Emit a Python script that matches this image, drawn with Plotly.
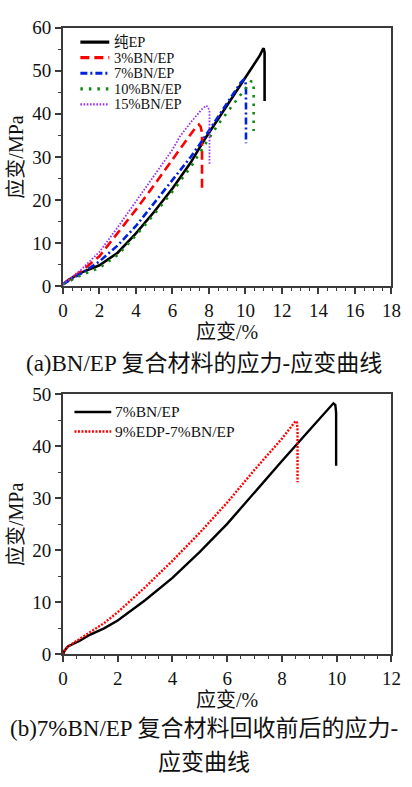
import plotly.graph_objects as go

# ---- (a) stress-strain curves of BN/EP composites (strain %, stress MPa) ----
ep_x = [0, 0.3, 1, 2, 3, 4, 5, 6, 7, 7.75, 9, 10, 10.8, 10.95, 11.0, 11.05, 11.05]
ep_y = [0.5, 1.5, 3.2, 4.9, 7.8, 12.3, 17.3, 22.7, 28.7, 34.0, 42.0, 48.4, 53.6, 54.9, 55.2, 54.2, 43.0]

bn3_x = [0, 0.5, 1, 2, 3, 4, 5, 6, 6.9, 7.3, 7.45, 7.55, 7.62, 7.62]
bn3_y = [0.5, 2.0, 3.5, 7.0, 12.3, 17.8, 23.5, 29.5, 34.7, 37.0, 37.5, 37.0, 35.5, 22.7]

bn7_x = [0, 0.5, 1, 2, 3, 4, 5, 6, 7, 7.75, 8.5, 9.3, 9.75, 9.92, 10.0, 10.03, 10.03]
bn7_y = [0.5, 1.8, 3.0, 5.8, 9.5, 14.0, 19.3, 24.6, 30.0, 34.5, 39.3, 44.4, 47.3, 48.0, 47.6, 46.0, 33.2]

bn10_x = [0, 0.5, 1, 2, 3, 4, 5, 6, 7, 7.8, 8.5, 9.35, 10.0, 10.3, 10.4, 10.45, 10.45]
bn10_y = [0.5, 1.6, 2.6, 4.3, 7.3, 11.8, 16.7, 22.0, 27.6, 33.0, 37.5, 42.3, 45.8, 47.5, 47.6, 46.8, 36.0]

bn15_x = [0, 0.5, 1, 2, 3, 4, 5, 6, 6.4, 7.0, 7.6, 7.85, 7.95, 8.03, 8.03]
bn15_y = [0.5, 2.2, 3.9, 8.0, 13.7, 19.7, 25.7, 31.7, 34.7, 38.0, 41.0, 41.9, 41.6, 40.5, 28.3]

# ---- (b) 7%BN/EP before and after recycling ----
rec_bn7_x = [0, 0.06, 0.18, 0.3, 0.6, 1, 1.5, 2, 3, 4, 5, 6, 7, 8, 9, 9.6, 9.8, 9.88, 9.95, 9.98, 9.98]
rec_bn7_y = [0, 0.7, 1.5, 1.8, 2.6, 3.8, 5.0, 6.5, 10.4, 14.7, 19.7, 25.1, 31.2, 37.2, 43.1, 46.7, 48.0, 48.3, 48.0, 46.5, 36.3]

edp_x = [0, 0.06, 0.18, 0.3, 0.6, 1, 1.5, 2, 3, 4, 5, 6, 7, 8, 8.4, 8.5, 8.55, 8.57, 8.57]
edp_y = [0, 0.8, 1.5, 1.9, 2.9, 4.2, 6.0, 8.1, 12.9, 18.0, 23.4, 29.2, 35.5, 41.5, 44.4, 44.9, 44.6, 43.0, 33.1]

names_a = ["纯EP", "3%BN/EP", "7%BN/EP", "10%BN/EP", "15%BN/EP"]
names_b = ["7%BN/EP", "9%EDP-7%BN/EP"]

x_ticks_a = [0, 2, 4, 6, 8, 10, 12, 14, 16, 18]
y_ticks_a = [0, 10, 20, 30, 40, 50, 60]
x_ticks_b = [0, 2, 4, 6, 8, 10, 12]
y_ticks_b = [0, 10, 20, 30, 40, 50]

SERIF = "Liberation Serif, Times New Roman, Noto Sans CJK SC, serif"
INK = "#111111"
FRAME = "#3a3a3a"

styles_a = [
    dict(color="#000000", width=2.6, dash="solid"),
    dict(color="#ff0000", width=2.6, dash="9px,5px"),
    dict(color="#0022dd", width=2.6, dash="7px,3px,2px,3px"),
    dict(color="#118811", width=2.6, dash="2.5px,6px"),
    dict(color="#9933ee", width=1.8, dash="1.6px,1.6px"),
]
styles_b = [
    dict(color="#000000", width=2.4, dash="solid"),
    dict(color="#ff0000", width=2.4, dash="2px,1.5px"),
]

fig = go.Figure()

series_a = [(ep_x, ep_y), (bn3_x, bn3_y), (bn7_x, bn7_y), (bn10_x, bn10_y), (bn15_x, bn15_y)]
for (sx, sy), nm, st in zip(series_a, names_a, styles_a):
    fig.add_trace(go.Scatter(x=sx, y=sy, mode="lines", name=nm, line=st,
                             xaxis="x", yaxis="y", showlegend=False))

series_b = [(rec_bn7_x, rec_bn7_y), (edp_x, edp_y)]
for (sx, sy), nm, st in zip(series_b, names_b, styles_b):
    fig.add_trace(go.Scatter(x=sx, y=sy, mode="lines", name=nm, line=st,
                             xaxis="x2", yaxis="y2", showlegend=False))

H = 787.0


def ydom(top_px, bottom_px):
    return [(H - bottom_px) / H, (H - top_px) / H]


xdom = [60 / 412, 400 / 412]

axis_common = dict(
    showline=True, linecolor=FRAME, linewidth=1.8, mirror=True,
    ticks="outside", ticklen=6, tickwidth=1.5, tickcolor=FRAME,
    showgrid=False, zeroline=False,
    tickfont=dict(family=SERIF, size=19, color=INK),
)
minor_x = dict(dtick=0.5, ticklen=3, ticks="outside", tickcolor=FRAME, tickwidth=1.2)
minor_y = dict(dtick=5, ticklen=3, ticks="outside", tickcolor=FRAME, tickwidth=1.2)
title_font = dict(family=SERIF, size=20, color=INK)

fig.update_layout(
    width=412, height=787,
    margin=dict(l=0, r=0, t=0, b=0),
    paper_bgcolor="white", plot_bgcolor="white",
    showlegend=False,
    xaxis=dict(domain=xdom, range=[0, 18], tickvals=x_ticks_a, anchor="y", minor=minor_x,
               title=dict(text="应变/%", font=title_font, standoff=0), **axis_common),
    yaxis=dict(domain=ydom(18, 284), range=[0, 60], tickvals=y_ticks_a, anchor="x", minor=minor_y,
               title=dict(text="应变/MPa", font=title_font, standoff=3), **axis_common),
    xaxis2=dict(domain=xdom, range=[0, 12], tickvals=x_ticks_b, anchor="y2", minor=minor_x,
                title=dict(text="应变/%", font=title_font, standoff=0), **axis_common),
    yaxis2=dict(domain=ydom(395, 662), range=[0, 50], tickvals=y_ticks_b, anchor="x2", minor=minor_y,
                title=dict(text="应变/MPa", font=title_font, standoff=3), **axis_common),
)

# legend keys drawn inside each panel
shapes = []
annotations = []
rows_a = [(284 - py) / 266 for py in (33, 49, 65, 81, 97)]
for nm, st, yy in zip(names_a, styles_a, rows_a):
    shapes.append(dict(type="line", xref="x domain", yref="y domain",
                       x0=0.053, x1=0.141, y0=yy, y1=yy,
                       line=dict(color=st["color"], width=st["width"] + 0.6, dash=st["dash"])))
    annotations.append(dict(xref="x domain", yref="y domain", x=0.153, y=yy,
                            xanchor="left", yanchor="middle", showarrow=False, text=nm,
                            borderpad=0, font=dict(family=SERIF, size=14.5, color=INK)))

rows_b = [(662 - py) / 267 for py in (413, 433)]
for nm, st, yy in zip(names_b, styles_b, rows_b):
    shapes.append(dict(type="line", xref="x2 domain", yref="y2 domain",
                       x0=0.035, x1=0.147, y0=yy, y1=yy,
                       line=dict(color=st["color"], width=st["width"], dash=st["dash"])))
    annotations.append(dict(xref="x2 domain", yref="y2 domain", x=0.156, y=yy,
                            xanchor="left", yanchor="middle", showarrow=False, text=nm,
                            borderpad=0, font=dict(family=SERIF, size=15.5, color=INK)))

# figure captions
captions = [
    ("(a)BN/EP 复合材料的应力-应变曲线", 363),
    ("(b)7%BN/EP 复合材料回收前后的应力-", 738),
    ("应变曲线", 773),
]
for txt, ypx in captions:
    annotations.append(dict(xref="paper", yref="paper", x=0.5, y=(H - ypx) / H,
                            xanchor="center", yanchor="middle", showarrow=False, text=txt,
                            font=dict(family=SERIF, size=23, color=INK)))

fig.update_layout(shapes=shapes, annotations=annotations)

fig.write_html("out.html")
